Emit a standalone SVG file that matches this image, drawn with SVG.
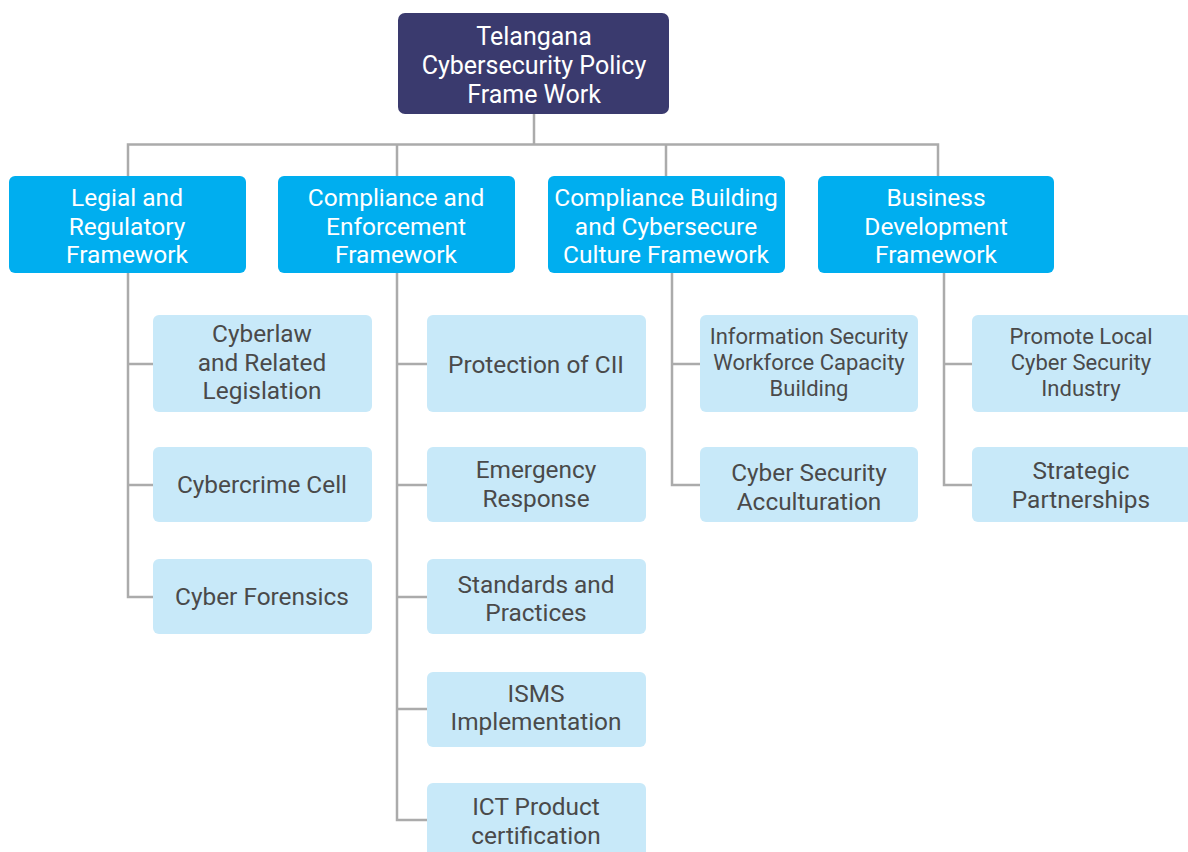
<svg xmlns="http://www.w3.org/2000/svg" width="1188" height="852" viewBox="0 0 1188 852">
<style>
.root{fill:#3a3a6e}
.main{fill:#00aeef}
.sub{fill:#c8e9f9}
.tw{fill:#ffffff;font-family:Roboto,"Liberation Sans",sans-serif;font-size:24.5px;text-anchor:middle}
.tr{font-size:25px}
.td{fill:#4a4a4a;font-family:Roboto,"Liberation Sans",sans-serif;font-size:24.4px;text-anchor:middle}
.ts{fill:#4a4a4a;font-family:Roboto,"Liberation Sans",sans-serif;font-size:22px;text-anchor:middle}
.c{fill:none;stroke:#ababab;stroke-width:2.5}
</style>
<rect width="1188" height="852" fill="#ffffff"/>
<g id="connectors">
<path class="c" d="M534 114V144.5M128 176V144.5H938V176M397 144.5V176M666 144.5V176"/>
<path class="c" d="M128 273V597H153M128 364H153M128 485H153"/>
<path class="c" d="M397 273V820H427M397 364H427M397 485H427M397 597H427M397 709H427"/>
<path class="c" d="M672 273V485H700M672 364H700"/>
<path class="c" d="M944 273V485H972M944 364H972"/>
</g>
<g id="root">
<rect class="root" x="398" y="13" width="271" height="101" rx="7"/>
<text class="tw tr" x="534" y="45">Telangana</text>
<text class="tw tr" x="534" y="74">Cybersecurity Policy</text>
<text class="tw tr" x="534" y="103">Frame Work</text>
</g>
<g id="legal">
<rect class="main" x="9" y="176" width="237" height="97" rx="6"/>
<text class="tw" x="127" y="206">Legial and</text>
<text class="tw" x="127" y="235">Regulatory</text>
<text class="tw" x="127" y="263">Framework</text>
</g>
<g id="compliance">
<rect class="main" x="278" y="176" width="237" height="97" rx="6"/>
<text class="tw" x="396" y="206">Compliance and</text>
<text class="tw" x="396" y="235">Enforcement</text>
<text class="tw" x="396" y="263">Framework</text>
</g>
<g id="culture">
<rect class="main" x="548" y="176" width="237" height="97" rx="6"/>
<text class="tw" x="666" y="206">Compliance Building</text>
<text class="tw" x="666" y="235">and Cybersecure</text>
<text class="tw" x="666" y="263">Culture Framework</text>
</g>
<g id="business">
<rect class="main" x="818" y="176" width="236" height="97" rx="6"/>
<text class="tw" x="936" y="206">Business</text>
<text class="tw" x="936" y="235">Development</text>
<text class="tw" x="936" y="263">Framework</text>
</g>
<g id="cyberlaw">
<rect class="sub" x="153" y="315" width="219" height="97" rx="6"/>
<text class="td" x="262" y="342">Cyberlaw</text>
<text class="td" x="262" y="371">and Related</text>
<text class="td" x="262" y="399">Legislation</text>
</g>
<g id="cybercrime">
<rect class="sub" x="153" y="447" width="219" height="75" rx="6"/>
<text class="td" x="262" y="493">Cybercrime Cell</text>
</g>
<g id="forensics">
<rect class="sub" x="153" y="559" width="219" height="75" rx="6"/>
<text class="td" x="262" y="605">Cyber Forensics</text>
</g>
<g id="cii">
<rect class="sub" x="427" y="315" width="219" height="97" rx="6"/>
<text class="td" x="536" y="373">Protection of CII</text>
</g>
<g id="emergency">
<rect class="sub" x="427" y="447" width="219" height="75" rx="6"/>
<text class="td" x="536" y="478">Emergency</text>
<text class="td" x="536" y="507">Response</text>
</g>
<g id="standards">
<rect class="sub" x="427" y="559" width="219" height="75" rx="6"/>
<text class="td" x="536" y="593">Standards and</text>
<text class="td" x="536" y="621">Practices</text>
</g>
<g id="isms">
<rect class="sub" x="427" y="672" width="219" height="75" rx="6"/>
<text class="td" x="536" y="702">ISMS</text>
<text class="td" x="536" y="730">Implementation</text>
</g>
<g id="ict">
<rect class="sub" x="427" y="783" width="219" height="80" rx="6"/>
<text class="td" x="536" y="815">ICT Product</text>
<text class="td" x="536" y="844">certification</text>
</g>
<g id="workforce">
<rect class="sub" x="700" y="315" width="218" height="97" rx="6"/>
<text class="ts" x="809" y="344">Information Security</text>
<text class="ts" x="809" y="370">Workforce Capacity</text>
<text class="ts" x="809" y="396">Building</text>
</g>
<g id="acculturation">
<rect class="sub" x="700" y="447" width="218" height="75" rx="6"/>
<text class="td" x="809" y="481">Cyber Security</text>
<text class="td" x="809" y="510">Acculturation</text>
</g>
<g id="promote">
<rect class="sub" x="972" y="315" width="220" height="97" rx="6"/>
<text class="ts" x="1081" y="344">Promote Local</text>
<text class="ts" x="1081" y="370">Cyber Security</text>
<text class="ts" x="1081" y="396">Industry</text>
</g>
<g id="partnerships">
<rect class="sub" x="972" y="447" width="220" height="75" rx="6"/>
<text class="td" x="1081" y="479">Strategic</text>
<text class="td" x="1081" y="508">Partnerships</text>
</g>
</svg>
